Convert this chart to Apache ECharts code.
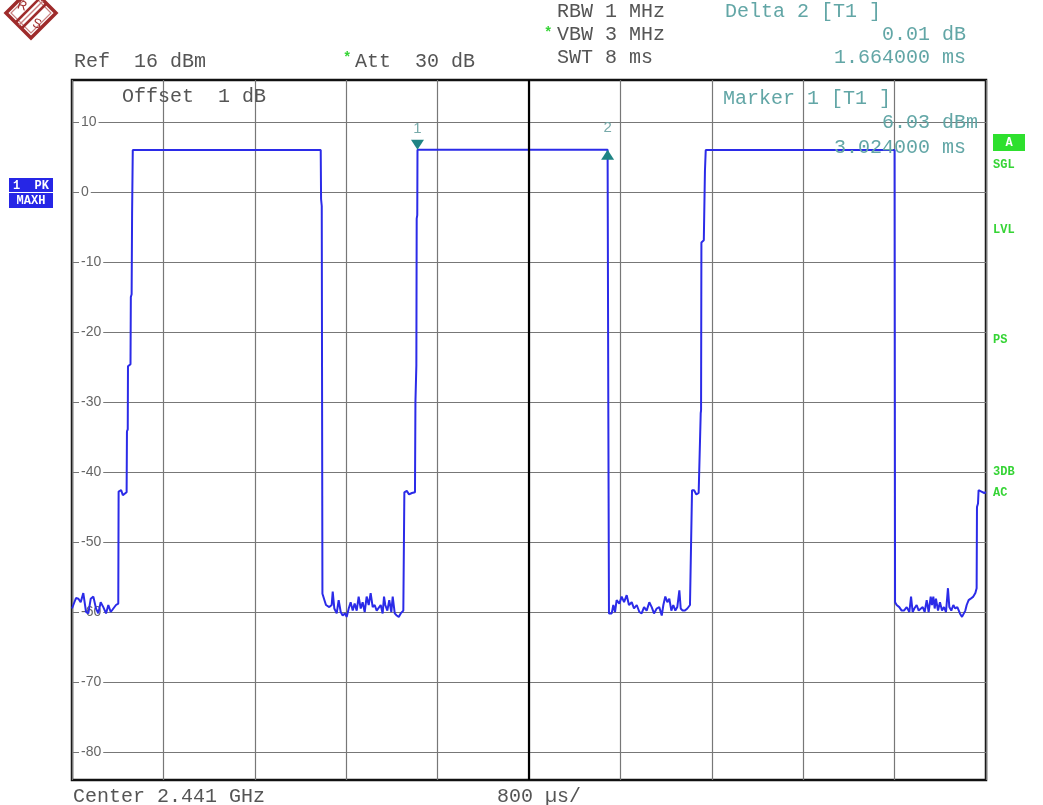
<!DOCTYPE html>
<html>
<head>
<meta charset="utf-8">
<script src="https://cdn.jsdelivr.net/npm/echarts@6/dist/echarts.min.js"></script>
<style>
  html, body { margin: 0; padding: 0; background: #ffffff; }
  #chart { width: 1043px; height: 805px; }
</style>
</head>
<body>
<div id="chart"></div>
<script>
// Zero-span power vs. time sweep: 8 ms sweep (800 µs/div), Ref 16 dBm, 10 dB/div.

// level gridline values (dBm)
const levelTicks = [10, 0, -10, -20, -30, -40, -50, -60, -70, -80];

// trace pieces as [time ms, level dBm]
const gapA = [
  [0.000, -59.5], [0.012, -59.3], [0.035, -58.0], [0.056, -58.1], [0.076, -58.6],
  [0.099, -57.3], [0.123, -60.0], [0.143, -60.2], [0.164, -58.1], [0.187, -57.8],
  [0.210, -59.5], [0.230, -60.2], [0.251, -58.6], [0.274, -59.3], [0.298, -60.2],
  [0.318, -59.0], [0.339, -60.0], [0.362, -59.5], [0.385, -59.0], [0.405, -58.8]
];
const burstA = [
  [0.408, -42.8], [0.430, -42.6], [0.445, -43.3], [0.462, -43.1], [0.478, -42.9],
  [0.481, -34.2], [0.488, -33.9], [0.490, -24.9], [0.512, -24.6], [0.515, -15.0],
  [0.522, -14.6], [0.526, -3.0], [0.532, 6.0], [2.177, 6.0], [2.180, -1.0],
  [2.186, -2.0], [2.192, -57.4]
];
const gapB = [
  [2.200, -57.6], [2.223, -59.0], [2.252, -59.3], [2.273, -59.0], [2.282, -57.1],
  [2.296, -59.5], [2.317, -60.2], [2.334, -58.3], [2.352, -60.0], [2.369, -60.5],
  [2.389, -60.2], [2.404, -60.7], [2.422, -59.5], [2.439, -58.6], [2.457, -59.8],
  [2.474, -58.8], [2.492, -59.8], [2.509, -57.8], [2.527, -59.5], [2.544, -58.6],
  [2.562, -60.0], [2.579, -57.8], [2.597, -59.0], [2.614, -57.3], [2.632, -59.3],
  [2.649, -59.0], [2.667, -59.8], [2.684, -60.0], [2.702, -59.0], [2.719, -60.2],
  [2.731, -57.8], [2.742, -59.0], [2.760, -59.8], [2.777, -58.3], [2.795, -60.0],
  [2.807, -57.8], [2.825, -60.2], [2.842, -60.5], [2.860, -60.7], [2.877, -60.2],
  [2.900, -59.8]
];
const burstB = [
  [2.909, -42.9], [2.930, -42.7], [2.950, -43.2], [2.975, -43.0], [3.002, -42.9],
  [3.006, -30.0], [3.014, -24.8], [3.017, -3.8], [3.022, -3.3], [3.024, 6.03],
  [4.688, 6.04], [4.690, 6.0], [4.694, -30.0], [4.700, -60.2]
];
const gapC = [
  [4.703, -60.2], [4.724, -60.2], [4.738, -59.0], [4.753, -60.0], [4.767, -58.3],
  [4.791, -58.8], [4.811, -57.8], [4.832, -58.6], [4.855, -57.6], [4.875, -59.0],
  [4.899, -58.6], [4.919, -59.5], [4.943, -59.0], [4.966, -60.0], [4.986, -60.2],
  [5.007, -59.3], [5.030, -59.8], [5.053, -58.6], [5.074, -59.3], [5.094, -60.2],
  [5.118, -59.5], [5.140, -59.3], [5.162, -60.5], [5.176, -59.0], [5.193, -57.8],
  [5.211, -58.6], [5.228, -58.1], [5.246, -59.8], [5.263, -59.0], [5.281, -59.8],
  [5.298, -59.3], [5.316, -56.9], [5.328, -59.5], [5.345, -59.8], [5.365, -59.8],
  [5.386, -59.5], [5.409, -59.0], [5.424, -58.8]
];
const burstC = [
  [5.427, -42.6], [5.445, -42.6], [5.465, -43.2], [5.485, -43.0], [5.497, -42.9],
  [5.503, -31.6], [5.506, -31.2], [5.509, -7.2], [5.530, -6.9], [5.540, 3.0],
  [5.547, 6.0], [7.200, 6.0], [7.204, -58.6]
];
const gapD = [
  [7.218, -59.0], [7.241, -59.3], [7.262, -59.8], [7.282, -59.8], [7.306, -59.3],
  [7.329, -60.0], [7.344, -57.8], [7.358, -60.0], [7.373, -59.5], [7.393, -59.0],
  [7.411, -59.8], [7.428, -60.0], [7.446, -59.3], [7.463, -60.0], [7.481, -58.3],
  [7.498, -60.0], [7.516, -57.8], [7.527, -59.0], [7.539, -57.8], [7.551, -59.5],
  [7.562, -58.1], [7.580, -59.8], [7.597, -58.6], [7.615, -59.8], [7.632, -59.3],
  [7.650, -60.0], [7.667, -56.6], [7.679, -59.3], [7.696, -59.8], [7.714, -59.0],
  [7.731, -59.5], [7.749, -59.3], [7.772, -60.2], [7.790, -60.7], [7.802, -60.5],
  [7.819, -59.8], [7.831, -59.0], [7.848, -58.3], [7.866, -58.1], [7.889, -57.8],
  [7.907, -57.3], [7.918, -56.6]
];
const burstD = [
  [7.921, -45.0], [7.930, -44.5], [7.935, -42.6], [7.960, -42.8], [7.985, -43.0],
  [8.000, -42.9]
];

// markers: time (ms) and level (dBm)
const markerNames = ['1', '2'];
const markerTimes = [3.024, 4.688];
const markerLevels = [6.03, 6.04];

const trace = [].concat(gapA, burstA, gapB, burstB, gapC, burstC, gapD, burstD);

const deltaDb = (markerLevels[1] - markerLevels[0]).toFixed(2);
const deltaMs = (markerTimes[1] - markerTimes[0]).toFixed(6);

const mono = '"Liberation Mono", "DejaVu Sans Mono", monospace';
const ink = '#555555';
const teal = '#62a6a6';
const green = '#35d435';

function label(x, y, text, color, size, align, weight) {
  return {
    type: 'text', x: x, y: y, silent: true, z: 100,
    style: {
      text: text, fill: color,
      font: (weight || 'normal') + ' ' + size + 'px ' + mono,
      textAlign: align || 'left', textVerticalAlign: 'middle'
    }
  };
}
function box(x, y, w, h, color) {
  return { type: 'rect', silent: true, z: 99, shape: { x: x, y: y, width: w, height: h }, style: { fill: color } };
}

const logoColor = '#9e2b2b';
const logo = {
  type: 'group', x: 0, y: 0, silent: true, z: 100,
  children: [
    { type: 'polygon', shape: { points: [[6, 13], [31, -12], [56, 13], [31, 38]] }, style: { fill: 'none', stroke: logoColor, lineWidth: 3.5 } },
    { type: 'polygon', shape: { points: [[11, 13], [31, -7], [51, 13], [31, 33]] }, style: { fill: 'none', stroke: '#c98080', lineWidth: 1.2 } },
    { type: 'line', shape: { x1: 40, y1: -2, x2: 16, y2: 22 }, style: { stroke: logoColor, lineWidth: 2.5 } },
    { type: 'line', shape: { x1: 43, y1: 1, x2: 19, y2: 25 }, style: { stroke: '#c98080', lineWidth: 1.5 } },
    { type: 'line', shape: { x1: 46, y1: 4, x2: 22, y2: 28 }, style: { stroke: logoColor, lineWidth: 2.5 } },
    { type: 'text', x: 22, y: 6, rotation: -0.3, style: { text: 'R', fill: logoColor, font: '13px "Liberation Sans"', textAlign: 'center', textVerticalAlign: 'middle' } },
    { type: 'text', x: 37, y: 24, rotation: -0.3, style: { text: 'S', fill: logoColor, font: '13px "Liberation Sans"', textAlign: 'center', textVerticalAlign: 'middle' } }
  ]
};

const graphics = [
  logo,
  label(557, 12, 'RBW 1 MHz', ink, 20),
  label(544, 33, '*', green, 14, 'left', 'bold'),
  label(557, 35, 'VBW 3 MHz', ink, 20),
  label(557, 58, 'SWT 8 ms', ink, 20),
  label(725, 12, 'Delta ' + markerNames[1] + ' [T1 ]', teal, 20),
  label(966, 35, deltaDb + ' dB', teal, 20, 'right'),
  label(966, 58, deltaMs + ' ms', teal, 20, 'right'),
  label(74, 62, 'Ref  16 dBm', ink, 20),
  label(343, 58, '*', green, 14, 'left', 'bold'),
  label(355, 62, 'Att  30 dB', ink, 20),
  label(122, 97, 'Offset  1 dB', ink, 20),
  label(723, 99, 'Marker ' + markerNames[0] + ' [T1 ]', teal, 20),
  label(978, 123, markerLevels[0].toFixed(2) + ' dBm', teal, 20, 'right'),
  label(966, 148, markerTimes[0].toFixed(6) + ' ms', teal, 20, 'right'),
  label(73, 797, 'Center 2.441 GHz', ink, 20),
  label(497, 797, '800 \u00b5s/', ink, 20),
  box(9, 178, 44, 14, '#2626e6'),
  label(31, 185.5, '1  PK', '#ffffff', 12, 'center', 'bold'),
  box(9, 193, 44, 15, '#2626e6'),
  label(31, 200.5, 'MAXH', '#ffffff', 12, 'center', 'bold'),
  box(993, 134, 32, 17, '#2ee02e'),
  label(1009, 142.5, 'A', '#ffffff', 12, 'center', 'bold'),
  label(993, 165, 'SGL', green, 12, 'left', 'bold'),
  label(993, 230, 'LVL', green, 12, 'left', 'bold'),
  label(993, 340, 'PS', green, 12, 'left', 'bold'),
  label(993, 472, '3DB', green, 12, 'left', 'bold'),
  label(993, 493, 'AC', green, 12, 'left', 'bold')
];

const chart = echarts.init(document.getElementById('chart'), null, { renderer: 'canvas' });
chart.setOption({
  animation: false,
  backgroundColor: '#ffffff',
  grid: {
    left: 72, top: 80, width: 914, height: 700,
    show: true, backgroundColor: '#ffffff', borderColor: '#111111', borderWidth: 2.5
  },
  xAxis: {
    type: 'value', min: 0, max: 8, interval: 0.8,
    axisLine: { show: false }, axisTick: { show: false }, axisLabel: { show: false },
    splitLine: { show: true, lineStyle: { color: '#777777', width: 1.2 } }
  },
  yAxis: {
    type: 'value', min: -84, max: 16,
    axisLine: { show: false },
    axisTick: { show: false, customValues: levelTicks },
    axisLabel: {
      show: true, inside: true, customValues: levelTicks, margin: 7,
      color: '#666666', fontSize: 14, fontFamily: '"Liberation Sans", Arial, sans-serif',
      backgroundColor: '#ffffff', padding: [0, 2, 0, 2],
      formatter: function (v) { return String(v); }
    },
    splitLine: { show: true, lineStyle: { color: '#777777', width: 1.2 } }
  },
  series: [{
    type: 'line',
    data: trace,
    showSymbol: false,
    symbol: 'none',
    clip: true,
    lineStyle: { color: '#2b2be8', width: 2 },
    markLine: {
      silent: true, symbol: ['none', 'none'],
      label: { show: false },
      lineStyle: { color: '#000000', width: 2.2, type: 'solid' },
      data: [{ xAxis: 4 }]
    },
    markPoint: {
      silent: true,
      data: [
        {
          coord: [markerTimes[0], markerLevels[0]], symbol: 'triangle', symbolRotate: 180,
          symbolSize: [13, 10], symbolOffset: [0, -5], itemStyle: { color: '#1f8484' },
          label: { show: true, position: 'top', distance: 3, formatter: markerNames[0], color: '#78aaaa', fontSize: 15, fontFamily: '"Liberation Sans", Arial' }
        },
        {
          coord: [markerTimes[1], markerLevels[1]], symbol: 'triangle',
          symbolSize: [13, 10], symbolOffset: [0, 5], itemStyle: { color: '#1f8484' },
          label: { show: true, position: 'top', distance: 14, formatter: markerNames[1], color: '#78aaaa', fontSize: 15, fontFamily: '"Liberation Sans", Arial' }
        }
      ]
    }
  }],
  graphic: graphics
});
</script>
</body>
</html>
